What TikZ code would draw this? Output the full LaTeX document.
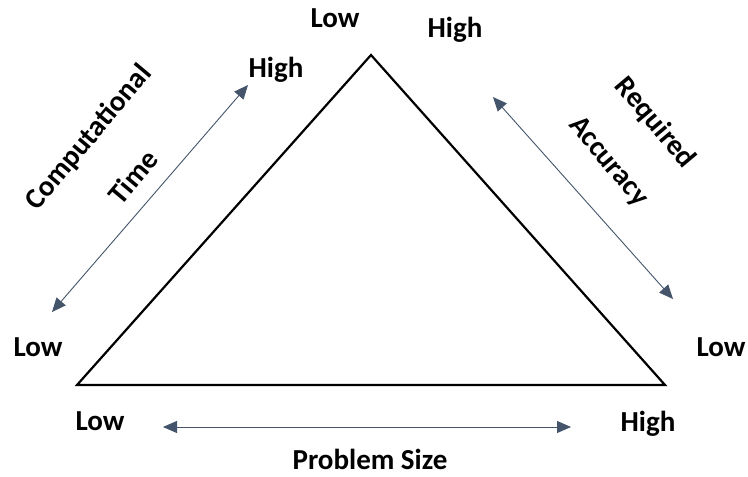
\documentclass[tikz,border=0pt]{standalone}
\usepackage{fontspec}
\setmainfont{Carlito}
\usetikzlibrary{arrows.meta}
\definecolor{axisblue}{HTML}{44546A}
\tikzset{
  x=1pt, y=-1pt,
  lbl/.style={font=\bfseries\fontsize{29}{34}\selectfont, inner sep=0pt},
  axis/.style={draw=axisblue, line width=0.9pt,
    {Triangle[length=14pt,width=12pt,fill=axisblue]}-{Triangle[length=14pt,width=12pt,fill=axisblue]}},
  tri/.style={draw=black, line width=2.2pt, line join=miter}
}
\begin{document}
\begin{tikzpicture}
\useasboundingbox (0,0) rectangle (748,477);
% triangle
\coordinate (top) at (371,55);
\coordinate (bl) at (77,385);
\coordinate (br) at (665,385);
\draw[tri] (top) -- (br) -- (bl) -- cycle;
% axis end points
\coordinate (ctA) at (52,312);
\coordinate (ctB) at (248,85);
\coordinate (raA) at (493,97);
\coordinate (raB) at (673,299);
\coordinate (psA) at (163,427);
\coordinate (psB) at (571,427);
\draw[axis] (ctA) -- (ctB);
\draw[axis] (raA) -- (raB);
\draw[axis] (psA) -- (psB);
% labels
\node[lbl] (ctlow) at (38,347) {Low};
\node[lbl] (cthigh) at (276,70) {High};
\node[lbl, rotate=50] (ct1) at (89,138) {Computational};
\node[lbl, rotate=50] (ct2) at (133,177) {Time};
\node[lbl] (toplow) at (335,18) {Low};
\node[lbl] (tophigh) at (455,30) {High};
\node[lbl, rotate=-50] (ra1) at (655,123) {Required};
\node[lbl, rotate=-50] (ra2) at (608,162) {Accuracy};
\node[lbl] (ralow) at (721,347) {Low};
\node[lbl] (pslow) at (100,421) {Low};
\node[lbl] (pshigh) at (648,424) {High};
\node[lbl] (pslabel) at (370,459) {Problem Size};
\end{tikzpicture}
\end{document}
